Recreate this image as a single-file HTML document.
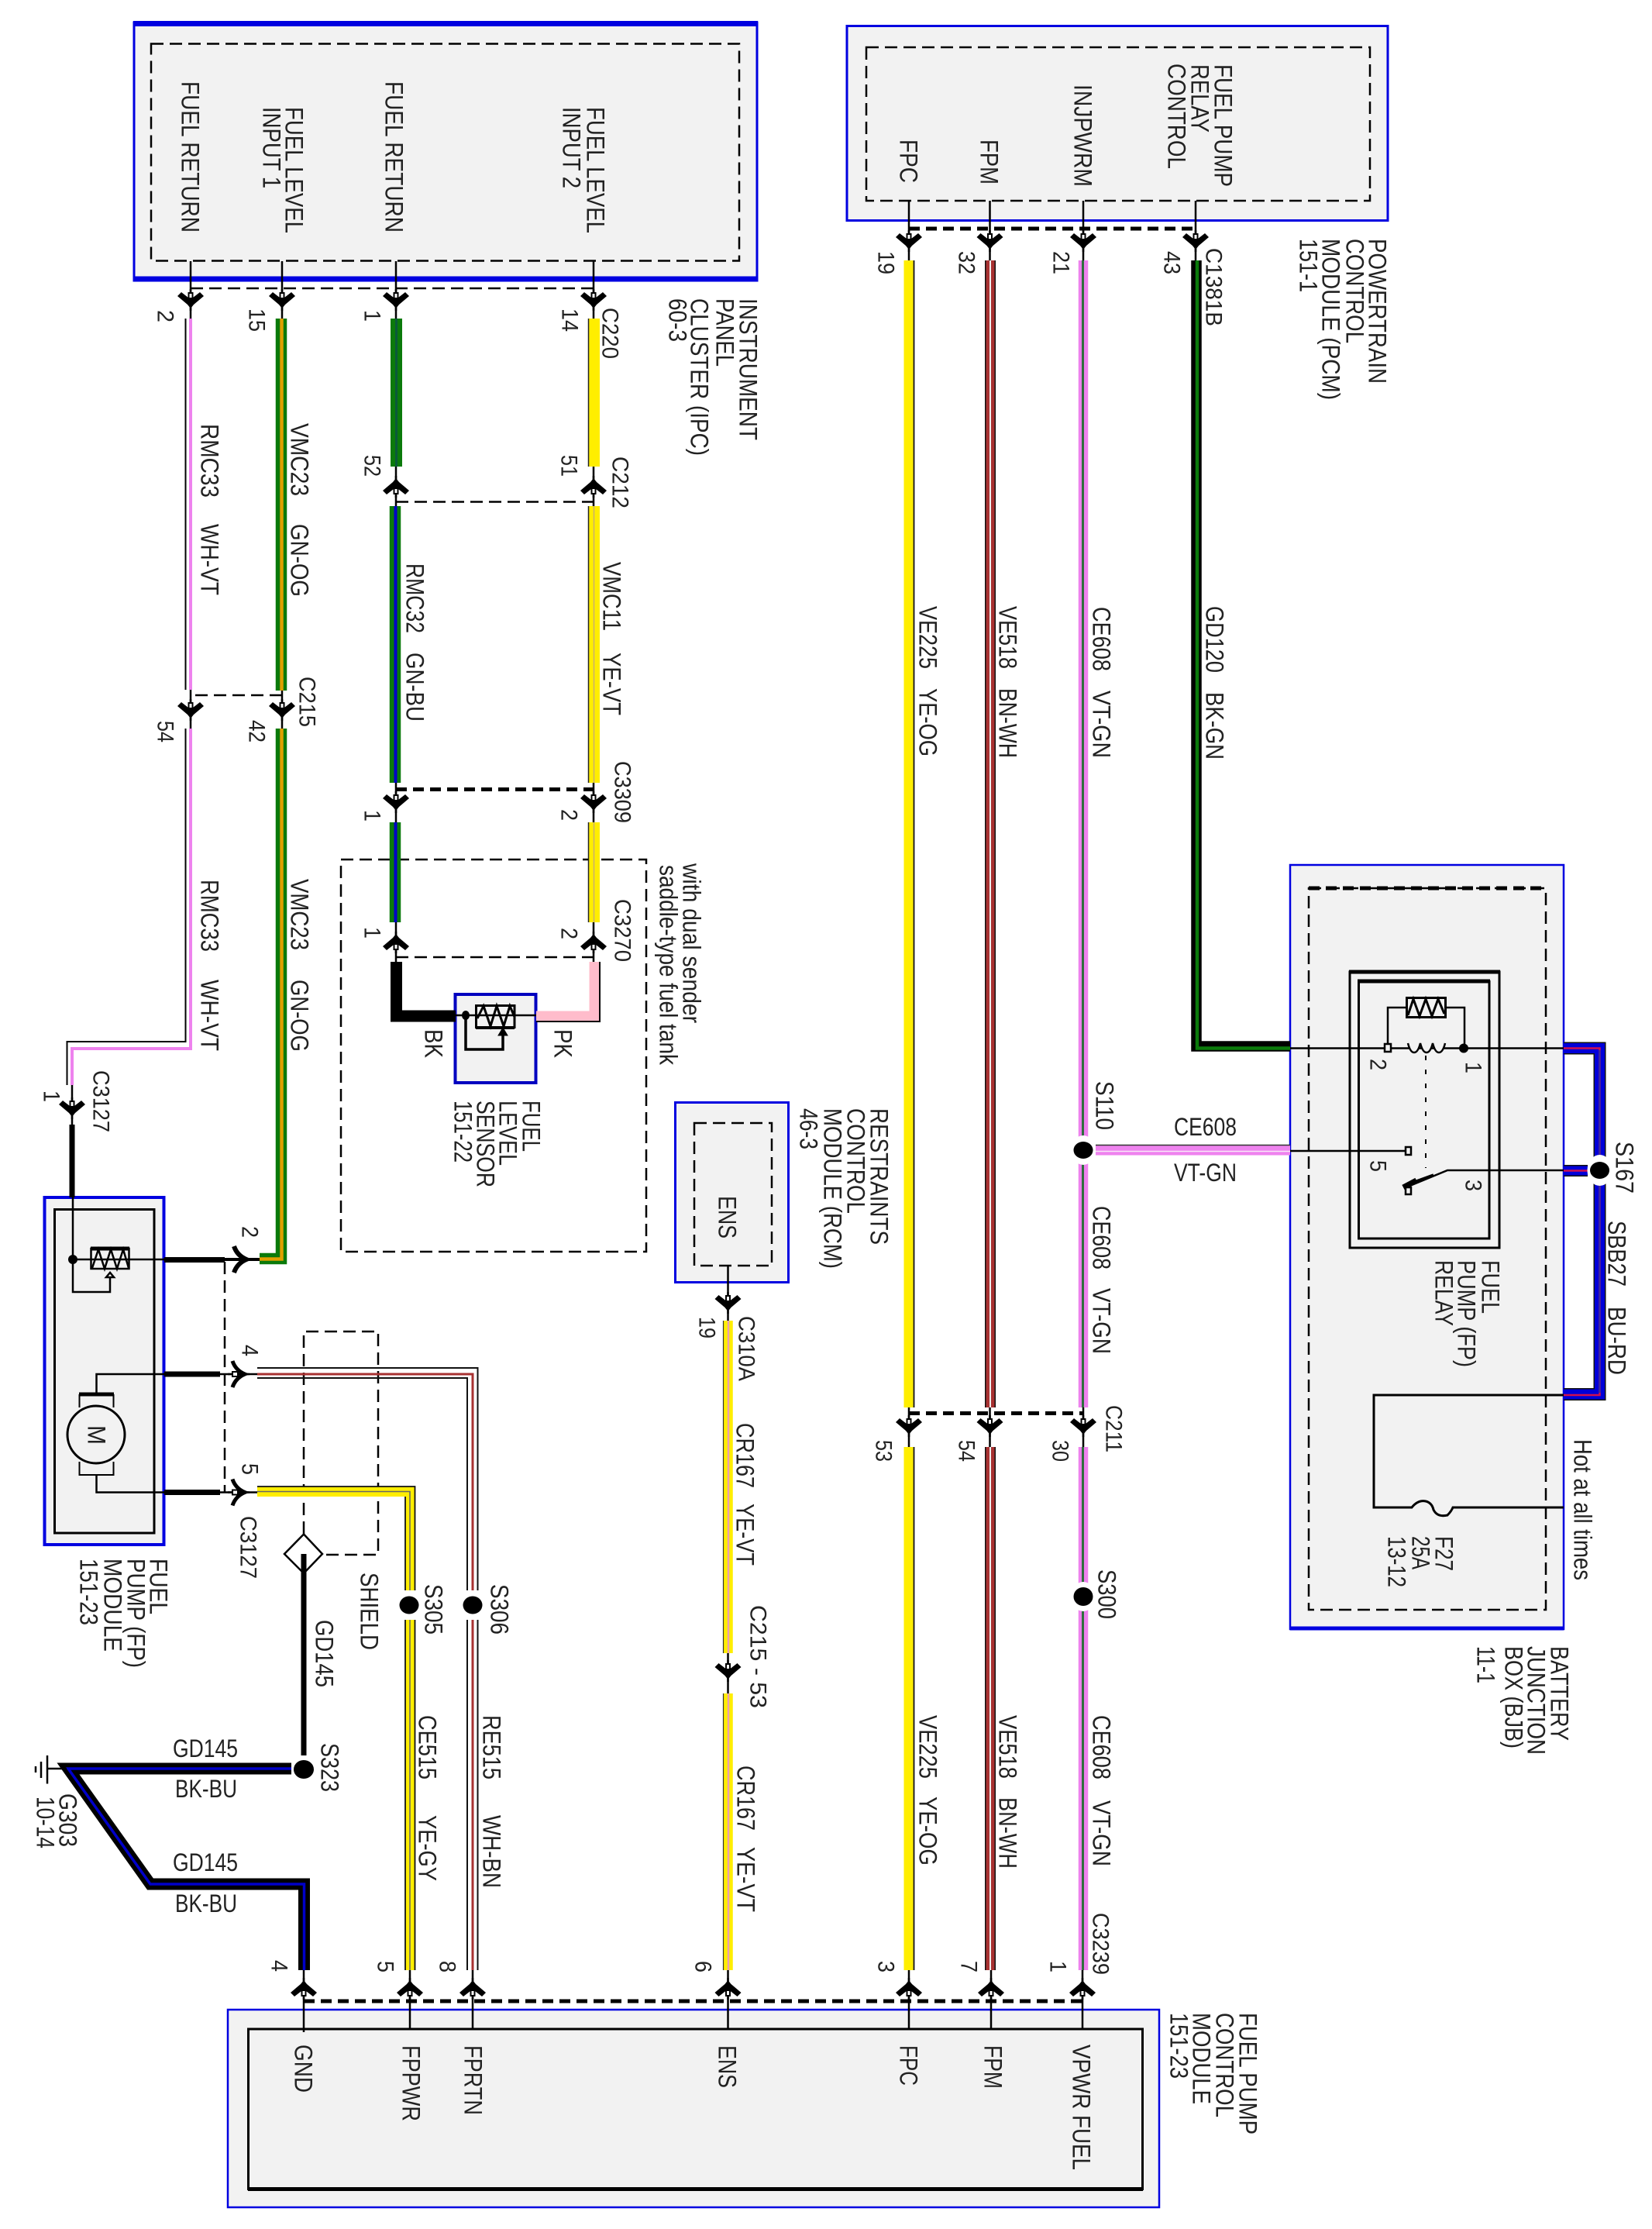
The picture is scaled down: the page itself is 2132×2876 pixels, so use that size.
<!DOCTYPE html>
<html><head><meta charset="utf-8"><title>Fuel pump wiring diagram</title>
<style>
html,body{margin:0;padding:0;background:#fff}
svg{display:block}
text{font-family:"Liberation Sans",sans-serif;font-size:32px;fill:#222}
.n{font-size:30px}
</style></head><body>
<svg xmlns="http://www.w3.org/2000/svg" width="2132" height="2876" viewBox="0 0 2132 2876" fill="none" stroke-linecap="butt" stroke-linejoin="miter">
<defs>
<g id="a"><polygon fill="#000" stroke="none" points="-17,-5 -12,-10 -3,-3 3,-3 12,-10 17,-5 4,6 0,11 -4,6"/><path d="M0,-14V14" stroke="#000" stroke-width="2.5"/><rect x="-2.5" y="-9" width="5" height="7" fill="#fff" stroke="#000" stroke-width="2"/></g>
<g id="r"><path d="M-8,-17Q-4,-5 8,0Q-4,5 -8,17" stroke="#000" stroke-width="5"/><path d="M-14,0H14" stroke="#000" stroke-width="2.5"/><rect x="-8" y="-3" width="7" height="6" fill="#fff" stroke="#000" stroke-width="2"/></g>
</defs>

<!-- boxes -->
<g fill="#f2f2f2">
<rect x="173" y="29" width="804" height="333" stroke="#0000e0" stroke-width="3"/>
<rect x="1093" y="33.5" width="698" height="251" stroke="#0000e0" stroke-width="3"/>
<rect x="1665" y="1116" width="353" height="986" stroke="#0000e0" stroke-width="2.5"/>
<rect x="871.5" y="1422.5" width="146" height="232" stroke="#0000e0" stroke-width="3"/>
<rect x="57.5" y="1545" width="154" height="448" stroke="#0000e0" stroke-width="4"/>
<rect x="294" y="2593" width="1202" height="255" stroke="#0000e0" stroke-width="2.5"/>
<rect x="587.5" y="1283" width="104" height="114" stroke="#0000c0" stroke-width="4"/>
</g>
<path d="M172,30.5H978M172,360H978" stroke="#0000e0" stroke-width="7"/>
<path d="M1665,2101H2018" stroke="#0000e0" stroke-width="5"/>
<rect x="70.5" y="1560.5" width="128.5" height="417.5" stroke="#000" stroke-width="3"/>
<rect x="320.5" y="2618" width="1154" height="206.5" stroke="#000" stroke-width="3"/>
<path d="M320,2824.5H1475" stroke="#000" stroke-width="5"/>

<!-- dashed groups -->
<g stroke="#000" stroke-width="2.5" stroke-dasharray="16 8">
<rect x="195" y="56.5" width="759" height="280"/>
<rect x="1118" y="61" width="650" height="198"/>
<rect x="1689" y="1146" width="306" height="931"/>
<rect x="896" y="1449" width="100" height="184"/>
<rect x="440" y="1109" width="394" height="506"/>
<path d="M246,372H766M511,647.5H766M364,897H246M511,1235H766M290,1628V1925"/>
<path d="M392,1979V1718H488V2006H416"/>
</g>
<g stroke="#000" stroke-width="5" stroke-dasharray="14 8">
<path d="M1173,295H1543M511,1018.5H766M1173,1823.5H1398M392,2582H1397M1689,1146H1995"/>
</g>

<!-- thin connecting lines -->
<g stroke="#000" stroke-width="2.5">
<path d="M246,337V411M364,337V411M511,337V411M766,337V411"/>
<path d="M511,602V653M766,602V653M246,890V940M364,891V940M511,1010V1061M766,1010V1061M511,1190V1241M766,1190V1241"/>
<path d="M1173,259V336M1277.5,259V336M1398,259V336M1543,259V336"/>
<path d="M1173,1816V1867M1277.5,1816V1867M1398,1816V1867"/>
<path d="M392,2542V2622M529,2542V2618M610,2542V2618M939.5,2542V2618M1173,2542V2618M1279,2542V2618M1397,2542V2618"/>
<path d="M939.5,1633V1704M939.5,2133V2185"/>
<path d="M93,1400V1455"/>
</g>

<!-- WH-VT -->
<path d="M239.5,411V890M239.5,940V1344H86.5V1400" stroke="#000" stroke-width="2"/>
<path d="M246,411V890M246,940V1353H93V1400" stroke="#ee82ee" stroke-width="4"/>
<path d="M93,1451V1545" stroke="#000" stroke-width="7"/>
<!-- GN-OG -->
<path d="M363,411V891M363,940V1624H335" stroke="#0b7a0b" stroke-width="14.5"/>
<path d="M363.5,411V891M363.5,940V1624.5H335" stroke="#e0a000" stroke-width="4.5"/>
<!-- GN -->
<path d="M511.5,411V602" stroke="#0b7a0b" stroke-width="15"/>
<path d="M511.5,411V602" stroke="#0a5a3a" stroke-width="3"/>
<path d="M510,653V1010M510,1061V1190" stroke="#0b7a0b" stroke-width="14.5"/>
<path d="M510.5,653V1010M510.5,1061V1190" stroke="#0000c8" stroke-width="4"/>
<!-- YE -->
<path d="M767,411V602M767,653V1010M767,1061V1190" stroke="#ffee00" stroke-width="14"/>
<path d="M759.5,411V602M759.5,653V1010M759.5,1061V1190" stroke="#222" stroke-width="1.5"/>
<path d="M766.5,653V1010M766.5,1061V1190" stroke="#c8b070" stroke-width="1.5"/>
<!-- BK sensor -->
<path d="M511.5,1241V1311H588" stroke="#000" stroke-width="15"/>
<path d="M767,1241V1311H692" stroke="#ffbccb" stroke-width="13"/>
<path d="M774,1241V1318H692" stroke="#000" stroke-width="2"/>
<!-- sensor internals -->
<g stroke="#000">
<rect x="614.5" y="1297.5" width="49.5" height="28" stroke-width="3"/>
<path d="M614,1326H664" stroke-width="4"/>
<path d="M585,1310H692" stroke-width="2.5"/>
<path d="M616,1314L624,1298L633,1324L641,1298L650,1324L658,1298L664,1312" stroke-width="3"/>
<path d="M601,1310V1354H649V1332" stroke-width="3.5"/>
<path d="M649,1326L643,1336H655Z" fill="#000" stroke-width="1"/>
<ellipse cx="601" cy="1310" rx="5" ry="6" fill="#000" stroke="none"/>
</g>

<!-- PCM wires -->
<path d="M1172.5,336V1816M1172.5,1867V2542" stroke="#ffee00" stroke-width="12"/>
<path d="M1179.5,336V1816M1179.5,1867V2542" stroke="#111" stroke-width="1.8"/>
<path d="M1278,336V1816M1278,1867V2542" stroke="#111" stroke-width="14"/>
<path d="M1278,336V1816M1278,1867V2542" stroke="#a83232" stroke-width="11"/>
<path d="M1278,336V1816M1278,1867V2542" stroke="#eee" stroke-width="2"/>
<path d="M1398,336V1816M1398,1867V2542" stroke="#ee82ee" stroke-width="12.5"/>
<path d="M1397.5,336V1816M1397.5,1867V2542" stroke="#2f6f3f" stroke-width="3"/>
<path d="M1544,336V1350H1665" stroke="#000" stroke-width="13.5"/>
<path d="M1545,336V1352.5H1665" stroke="#0b7a0b" stroke-width="4.5"/>
<!-- CE608 horizontal -->
<path d="M1414,1484H1665" stroke="#ee82ee" stroke-width="13"/>
<path d="M1414,1477.5H1665" stroke="#333" stroke-width="1.5"/>
<path d="M1414,1485.5H1665" stroke="#f8e8f8" stroke-width="1.5"/>
<!-- splice dots with halo -->
<g>
<ellipse cx="1398" cy="1484" rx="16" ry="19" fill="#fff"/>
<ellipse cx="1398" cy="2060" rx="16" ry="19" fill="#fff"/>
<ellipse cx="528" cy="2071" rx="17" ry="20" fill="#fff"/>
<ellipse cx="610" cy="2071" rx="17" ry="20" fill="#fff"/>
</g>

<!-- BU-RD -->
<path d="M2018,1352.5H2064.5V1799H2018" stroke="#111" stroke-width="16"/>
<path d="M2018,1352.5H2064.5V1799H2018" stroke="#0000d8" stroke-width="13"/>
<path d="M2018,1352.5H2064.5V1800H2018" stroke="#d01050" stroke-width="2.5"/>
<path d="M2064.5,1355V1797" stroke="#3030a0" stroke-width="2"/>
<path d="M2018,1510.5H2049" stroke="#111" stroke-width="15"/>
<path d="M2018,1510.5H2049" stroke="#0000d8" stroke-width="12"/>
<path d="M2018,1510.5H2049" stroke="#d01050" stroke-width="2.5"/>
<ellipse cx="2064.5" cy="1510" rx="16" ry="20" fill="#fff"/>

<!-- relay -->
<g stroke="#000">
<rect x="1742" y="1254" width="193" height="356" stroke-width="3"/>
<path d="M1741,1254H1936" stroke-width="5"/>
<rect x="1753.5" y="1266.5" width="168.5" height="331.5" stroke-width="3"/>
<path d="M1752,1266H1923" stroke-width="5"/>
<rect x="1815.5" y="1287.5" width="50" height="25" stroke-width="3"/>
<path d="M1817,1310L1824,1289L1832,1311L1840,1289L1848,1311L1856,1289L1864,1308" stroke-width="3"/>
<path d="M1791,1352V1300H1815M1866,1300H1890V1352" stroke-width="2.5"/>
<path d="M1665,1352.5H2018" stroke-width="2.5"/>
<path d="M1817,1346Q1820,1358 1825,1358T1833,1346Q1836,1358 1841,1358T1849,1346Q1852,1358 1857,1358T1865,1346" stroke-width="2.5" fill="#f2f2f2"/>
<rect x="1787" y="1347" width="8" height="10" fill="#f2f2f2" stroke-width="2.5"/>
<ellipse cx="1889" cy="1352.5" rx="6" ry="6" fill="#000" stroke="none"/>
<path d="M1840,1362V1507" stroke-width="2" stroke-dasharray="6 12"/>
<path d="M1665,1485H1815" stroke-width="2.5"/>
<rect x="1814" y="1480" width="7" height="10" fill="#f2f2f2" stroke-width="2.5"/>
<path d="M1817,1531L1868,1510H2018" stroke-width="2.5"/>
<path d="M1811,1532L1828,1523" stroke-width="7"/>
<path d="M1828,1524L1850,1516" stroke-width="3.5"/>
<rect x="1814" y="1532" width="7" height="9" fill="#f2f2f2" stroke-width="2.5"/>
<path d="M2018,1800H1773V1945H1822Q1830,1935 1840,1937Q1848,1939 1850,1948Q1855,1958 1868,1955Q1873,1950 1875,1945H2018" stroke-width="3"/>
</g>

<!-- FP module internals -->
<g stroke="#000">
<rect x="117.5" y="1611" width="49" height="26" stroke-width="2.5"/>
<path d="M117,1611H167" stroke-width="5"/>
<path d="M119,1636L127,1612L135,1637L143,1612L151,1637L159,1612L166,1636" stroke-width="2.5"/>
<path d="M94,1545V1667H142V1645" stroke-width="2.5"/>
<path d="M94,1625H212" stroke-width="2.5"/>
<path d="M142,1642L137,1648H147Z" fill="#fff" stroke-width="2.5"/>
<circle cx="94" cy="1625" r="6" fill="#000" stroke="none"/>
<path d="M212,1625.5H290" stroke-width="7"/>
<path d="M290,1625H335" stroke-width="4"/>
<path d="M212,1773H284M212,1925.5H284" stroke-width="7"/>
<path d="M124.5,1797V1773H212M284,1773H332M124.5,1903V1925.5H212M284,1925.5H332" stroke-width="2.5"/>
<path d="M102,1799H147" stroke-width="5"/>
<path d="M102.5,1799V1816M146.5,1799V1816M102.5,1886V1903H146.5V1886" stroke-width="2"/>
<circle cx="124" cy="1851" r="37" stroke-width="3" fill="#f2f2f2"/>
</g>
<path d="M302,1608Q306,1620 318,1625Q306,1630 302,1642" stroke="#000" stroke-width="6"/>

<!-- WH-BN -->
<path d="M332,1765H616.5V2060M616.5,2082V2542" stroke="#111" stroke-width="2"/>
<path d="M332,1773H610V2542" stroke="#a83232" stroke-width="3"/>
<path d="M332,1778H603V2060M603,2082V2542" stroke="#111" stroke-width="2"/>
<!-- YE-GY -->
<path d="M332,1924.5H529V2542" stroke="#ffee00" stroke-width="13"/>
<path d="M332,1924.5H529V2542" stroke="#666" stroke-width="1.6"/>
<path d="M332,1918H535.5V2542M523,1931V2542" stroke="#111" stroke-width="1.8"/>

<!-- re-halo for splices on left wires -->
<rect x="512" y="2052" width="34" height="38" fill="#fff"/>
<rect x="596" y="2052" width="28" height="38" fill="#fff"/>
<rect x="1389" y="2048" width="18" height="24" fill="#fff"/>
<rect x="1389" y="1470" width="18" height="28" fill="#fff"/>
<!-- dots -->
<g fill="#000">
<ellipse cx="1398" cy="1484" rx="12.5" ry="11"/>
<ellipse cx="1398" cy="2060" rx="12.5" ry="12"/>
<ellipse cx="2064.5" cy="1510" rx="12.5" ry="11"/>
<ellipse cx="528" cy="2071" rx="12.5" ry="11.5"/>
<ellipse cx="610" cy="2071" rx="12.5" ry="11.5"/>
<ellipse cx="392" cy="2283" rx="13" ry="12"/>
</g>

<!-- RCM wire -->
<path d="M939.5,1704V2133M939.5,2185V2542" stroke="#ffee00" stroke-width="12.5"/>
<path d="M940,1704V2133M940,2185V2542" stroke="#e8a0b0" stroke-width="2.5"/>
<path d="M933.5,1704V2133M933.5,2185V2542" stroke="#333" stroke-width="1.2"/>

<!-- GD145 -->
<path d="M392,2005V2265" stroke="#000" stroke-width="7"/>
<path d="M376,2282H88L194,2431H392.5V2542" stroke="#000" stroke-width="15"/>
<path d="M376,2282H88L194,2431H392.5V2542" stroke="#0000c8" stroke-width="3.5"/>
<path d="M392,1979.5L416,2005L392,2030L367,2005Z" fill="#fff" stroke="#000" stroke-width="2.5"/>
<path d="M392,2005V2032" stroke="#000" stroke-width="7"/>
<path d="M86,2282H61M61,2265V2301.5M53,2273V2294M46,2279V2287" stroke="#000" stroke-width="2.5"/>

<!-- connectors -->
<g>
<use href="#a" x="246" y="387"/><use href="#a" x="364" y="387"/><use href="#a" x="511" y="387"/><use href="#a" x="766" y="387"/>
<use href="#a" x="246" y="916"/><use href="#a" x="364" y="916"/>
<use href="#a" x="511" y="1035"/><use href="#a" x="766" y="1035"/>
<use href="#a" x="93" y="1430"/>
<use href="#a" x="1173" y="311"/><use href="#a" x="1277.5" y="311"/><use href="#a" x="1398" y="311"/><use href="#a" x="1543" y="311"/>
<use href="#a" x="1173" y="1840"/><use href="#a" x="1277.5" y="1840"/><use href="#a" x="1398" y="1840"/>
<use href="#a" x="939.5" y="1681"/><use href="#a" x="939.5" y="2156"/>
<use href="#a" transform="translate(511,628) rotate(180)"/><use href="#a" transform="translate(766,628) rotate(180)"/>
<use href="#a" transform="translate(511,1216) rotate(180)"/><use href="#a" transform="translate(766,1216) rotate(180)"/>
<use href="#a" transform="translate(392,2566) rotate(180)"/><use href="#a" transform="translate(529,2566) rotate(180)"/><use href="#a" transform="translate(610,2566) rotate(180)"/><use href="#a" transform="translate(939.5,2566) rotate(180)"/><use href="#a" transform="translate(1173,2566) rotate(180)"/><use href="#a" transform="translate(1279,2566) rotate(180)"/><use href="#a" transform="translate(1397,2566) rotate(180)"/>
<use href="#r" x="308" y="1773"/><use href="#r" x="308" y="1925.5"/>
</g>

<!-- rotated text -->
<g transform="translate(1.5,0)">
<text transform="translate(233,105)rotate(90)" textLength="195" lengthAdjust="spacingAndGlyphs">FUEL RETURN</text>
<text transform="translate(367,138)rotate(90)" textLength="163" lengthAdjust="spacingAndGlyphs">FUEL LEVEL</text>
<text transform="translate(338,138)rotate(90)" textLength="105" lengthAdjust="spacingAndGlyphs">INPUT 1</text>
<text transform="translate(496,105)rotate(90)" textLength="195" lengthAdjust="spacingAndGlyphs">FUEL RETURN</text>
<text transform="translate(756,138)rotate(90)" textLength="163" lengthAdjust="spacingAndGlyphs">FUEL LEVEL</text>
<text transform="translate(725,138)rotate(90)" textLength="105" lengthAdjust="spacingAndGlyphs">INPUT 2</text>
<text transform="translate(953,385)rotate(90)" textLength="183" lengthAdjust="spacingAndGlyphs">INSTRUMENT</text>
<text transform="translate(923,385)rotate(90)" textLength="88" lengthAdjust="spacingAndGlyphs">PANEL</text>
<text transform="translate(890,385)rotate(90)" textLength="203" lengthAdjust="spacingAndGlyphs">CLUSTER (IPC)</text>
<text transform="translate(862,385)rotate(90)" textLength="56" lengthAdjust="spacingAndGlyphs">60-3</text>
<text class="n" transform="translate(202,400)rotate(90)" textLength="16" lengthAdjust="spacingAndGlyphs">2</text>
<text class="n" transform="translate(320,398)rotate(90)" textLength="30" lengthAdjust="spacingAndGlyphs">15</text>
<text class="n" transform="translate(469,400)rotate(90)" textLength="15" lengthAdjust="spacingAndGlyphs">1</text>
<text class="n" transform="translate(724,398)rotate(90)" textLength="30" lengthAdjust="spacingAndGlyphs">14</text>
<text class="n" transform="translate(776,397)rotate(90)" textLength="66" lengthAdjust="spacingAndGlyphs">C220</text>
<text class="n" transform="translate(469,587)rotate(90)" textLength="28" lengthAdjust="spacingAndGlyphs">52</text>
<text class="n" transform="translate(723,587)rotate(90)" textLength="28" lengthAdjust="spacingAndGlyphs">51</text>
<text class="n" transform="translate(789,589)rotate(90)" textLength="67" lengthAdjust="spacingAndGlyphs">C212</text>
<text transform="translate(258,547)rotate(90)" textLength="95" lengthAdjust="spacingAndGlyphs">RMC33</text>
<text transform="translate(258,676)rotate(90)" textLength="92" lengthAdjust="spacingAndGlyphs">WH-VT</text>
<text transform="translate(374,546)rotate(90)" textLength="94" lengthAdjust="spacingAndGlyphs">VMC23</text>
<text transform="translate(374,676)rotate(90)" textLength="94" lengthAdjust="spacingAndGlyphs">GN-OG</text>
<text transform="translate(523,727)rotate(90)" textLength="90" lengthAdjust="spacingAndGlyphs">RMC32</text>
<text transform="translate(523,842)rotate(90)" textLength="89" lengthAdjust="spacingAndGlyphs">GN-BU</text>
<text transform="translate(777,725)rotate(90)" textLength="89" lengthAdjust="spacingAndGlyphs">VMC11</text>
<text transform="translate(777,842)rotate(90)" textLength="81" lengthAdjust="spacingAndGlyphs">YE-VT</text>
<text class="n" transform="translate(202,930)rotate(90)" textLength="28" lengthAdjust="spacingAndGlyphs">54</text>
<text class="n" transform="translate(320,929)rotate(90)" textLength="29" lengthAdjust="spacingAndGlyphs">42</text>
<text class="n" transform="translate(385,873)rotate(90)" textLength="65" lengthAdjust="spacingAndGlyphs">C215</text>
<text class="n" transform="translate(469,1045)rotate(90)" textLength="15" lengthAdjust="spacingAndGlyphs">1</text>
<text class="n" transform="translate(723,1044)rotate(90)" textLength="15" lengthAdjust="spacingAndGlyphs">2</text>
<text class="n" transform="translate(792,982)rotate(90)" textLength="80" lengthAdjust="spacingAndGlyphs">C3309</text>
<text class="n" transform="translate(469,1196)rotate(90)" textLength="15" lengthAdjust="spacingAndGlyphs">1</text>
<text class="n" transform="translate(723,1197)rotate(90)" textLength="15" lengthAdjust="spacingAndGlyphs">2</text>
<text class="n" transform="translate(792,1160)rotate(90)" textLength="81" lengthAdjust="spacingAndGlyphs">C3270</text>
<text transform="translate(880,1114)rotate(90)" textLength="206" lengthAdjust="spacingAndGlyphs">with dual sender</text>
<text transform="translate(850,1116)rotate(90)" textLength="258" lengthAdjust="spacingAndGlyphs">saddle-type fuel tank</text>
<text transform="translate(258,1135)rotate(90)" textLength="93" lengthAdjust="spacingAndGlyphs">RMC33</text>
<text transform="translate(258,1264)rotate(90)" textLength="92" lengthAdjust="spacingAndGlyphs">WH-VT</text>
<text transform="translate(374,1134)rotate(90)" textLength="92" lengthAdjust="spacingAndGlyphs">VMC23</text>
<text transform="translate(374,1264)rotate(90)" textLength="93" lengthAdjust="spacingAndGlyphs">GN-OG</text>
<text transform="translate(547,1328)rotate(90)" textLength="37" lengthAdjust="spacingAndGlyphs">BK</text>
<text transform="translate(714,1328)rotate(90)" textLength="37" lengthAdjust="spacingAndGlyphs">PK</text>
<text transform="translate(673,1420)rotate(90)" textLength="66" lengthAdjust="spacingAndGlyphs">FUEL</text>
<text transform="translate(643,1420)rotate(90)" textLength="84" lengthAdjust="spacingAndGlyphs">LEVEL</text>
<text transform="translate(614,1420)rotate(90)" textLength="112" lengthAdjust="spacingAndGlyphs">SENSOR</text>
<text transform="translate(585,1420)rotate(90)" textLength="80" lengthAdjust="spacingAndGlyphs">151-22</text>
<text class="n" transform="translate(55,1407)rotate(90)" textLength="15" lengthAdjust="spacingAndGlyphs">1</text>
<text class="n" transform="translate(119,1381)rotate(90)" textLength="80" lengthAdjust="spacingAndGlyphs">C3127</text>
<text class="n" transform="translate(311,1582)rotate(90)" textLength="15" lengthAdjust="spacingAndGlyphs">2</text>
<text class="n" transform="translate(311,1735)rotate(90)" textLength="15" lengthAdjust="spacingAndGlyphs">4</text>
<text class="n" transform="translate(311,1888)rotate(90)" textLength="15" lengthAdjust="spacingAndGlyphs">5</text>
<text class="n" transform="translate(309,1956)rotate(90)" textLength="81" lengthAdjust="spacingAndGlyphs">C3127</text>
<text transform="translate(112,1839)rotate(90)" textLength="25" lengthAdjust="spacingAndGlyphs">M</text>
<text transform="translate(192,2011)rotate(90)" textLength="72" lengthAdjust="spacingAndGlyphs">FUEL</text>
<text transform="translate(163,2011)rotate(90)" textLength="141" lengthAdjust="spacingAndGlyphs">PUMP (FP)</text>
<text transform="translate(133,2011)rotate(90)" textLength="120" lengthAdjust="spacingAndGlyphs">MODULE</text>
<text transform="translate(102,2011)rotate(90)" textLength="86" lengthAdjust="spacingAndGlyphs">151-23</text>
<text transform="translate(464,2029)rotate(90)" textLength="100" lengthAdjust="spacingAndGlyphs">SHIELD</text>
<text transform="translate(547,2044)rotate(90)" textLength="65" lengthAdjust="spacingAndGlyphs">S305</text>
<text transform="translate(632,2044)rotate(90)" textLength="65" lengthAdjust="spacingAndGlyphs">S306</text>
<text transform="translate(406,2090)rotate(90)" textLength="87" lengthAdjust="spacingAndGlyphs">GD145</text>
<text transform="translate(413,2249)rotate(90)" textLength="63" lengthAdjust="spacingAndGlyphs">S323</text>
<text transform="translate(75,2314)rotate(90)" textLength="69" lengthAdjust="spacingAndGlyphs">G303</text>
<text transform="translate(46,2318)rotate(90)" textLength="67" lengthAdjust="spacingAndGlyphs">10-14</text>
<text transform="translate(539,2213)rotate(90)" textLength="83" lengthAdjust="spacingAndGlyphs">CE515</text>
<text transform="translate(539,2342)rotate(90)" textLength="85" lengthAdjust="spacingAndGlyphs">YE-GY</text>
<text transform="translate(622,2213)rotate(90)" textLength="83" lengthAdjust="spacingAndGlyphs">RE515</text>
<text transform="translate(622,2342)rotate(90)" textLength="94" lengthAdjust="spacingAndGlyphs">WH-BN</text>
<text class="n" transform="translate(349,2529)rotate(90)" textLength="15" lengthAdjust="spacingAndGlyphs">4</text>
<text class="n" transform="translate(486,2530)rotate(90)" textLength="15" lengthAdjust="spacingAndGlyphs">5</text>
<text class="n" transform="translate(566,2530)rotate(90)" textLength="15" lengthAdjust="spacingAndGlyphs">8</text>
<text class="n" transform="translate(896,2530)rotate(90)" textLength="15" lengthAdjust="spacingAndGlyphs">6</text>
<text class="n" transform="translate(1132,2530)rotate(90)" textLength="15" lengthAdjust="spacingAndGlyphs">3</text>
<text class="n" transform="translate(1239,2530)rotate(90)" textLength="15" lengthAdjust="spacingAndGlyphs">7</text>
<text class="n" transform="translate(1354,2530)rotate(90)" textLength="15" lengthAdjust="spacingAndGlyphs">1</text>
<text transform="translate(379,2638)rotate(90)" textLength="62" lengthAdjust="spacingAndGlyphs">GND</text>
<text transform="translate(518,2639)rotate(90)" textLength="98" lengthAdjust="spacingAndGlyphs">FPPWR</text>
<text transform="translate(598,2639)rotate(90)" textLength="90" lengthAdjust="spacingAndGlyphs">FPRTN</text>
<text transform="translate(926,2639)rotate(90)" textLength="55" lengthAdjust="spacingAndGlyphs">ENS</text>
<text transform="translate(1160,2639)rotate(90)" textLength="52" lengthAdjust="spacingAndGlyphs">FPC</text>
<text transform="translate(1269,2639)rotate(90)" textLength="56" lengthAdjust="spacingAndGlyphs">FPM</text>
<text transform="translate(1383,2638)rotate(90)" textLength="162" lengthAdjust="spacingAndGlyphs">VPWR FUEL</text>
<text transform="translate(1598,2597)rotate(90)" textLength="157" lengthAdjust="spacingAndGlyphs">FUEL PUMP</text>
<text transform="translate(1568,2597)rotate(90)" textLength="135" lengthAdjust="spacingAndGlyphs">CONTROL</text>
<text transform="translate(1538,2597)rotate(90)" textLength="118" lengthAdjust="spacingAndGlyphs">MODULE</text>
<text transform="translate(1509,2597)rotate(90)" textLength="85" lengthAdjust="spacingAndGlyphs">151-23</text>
<text transform="translate(1160,180)rotate(90)" textLength="56" lengthAdjust="spacingAndGlyphs">FPC</text>
<text transform="translate(1264,180)rotate(90)" textLength="58" lengthAdjust="spacingAndGlyphs">FPM</text>
<text transform="translate(1385,109)rotate(90)" textLength="132" lengthAdjust="spacingAndGlyphs">INJPWRM</text>
<text transform="translate(1566,83)rotate(90)" textLength="158" lengthAdjust="spacingAndGlyphs">FUEL PUMP</text>
<text transform="translate(1536,83)rotate(90)" textLength="88" lengthAdjust="spacingAndGlyphs">RELAY</text>
<text transform="translate(1506,82)rotate(90)" textLength="136" lengthAdjust="spacingAndGlyphs">CONTROL</text>
<text transform="translate(1765,308)rotate(90)" textLength="187" lengthAdjust="spacingAndGlyphs">POWERTRAIN</text>
<text transform="translate(1736,308)rotate(90)" textLength="135" lengthAdjust="spacingAndGlyphs">CONTROL</text>
<text transform="translate(1705,308)rotate(90)" textLength="208" lengthAdjust="spacingAndGlyphs">MODULE (PCM)</text>
<text transform="translate(1676,308)rotate(90)" textLength="69" lengthAdjust="spacingAndGlyphs">151-1</text>
<text class="n" transform="translate(1132,324)rotate(90)" textLength="30" lengthAdjust="spacingAndGlyphs">19</text>
<text class="n" transform="translate(1236,324)rotate(90)" textLength="30" lengthAdjust="spacingAndGlyphs">32</text>
<text class="n" transform="translate(1358,324)rotate(90)" textLength="30" lengthAdjust="spacingAndGlyphs">21</text>
<text class="n" transform="translate(1501,324)rotate(90)" textLength="30" lengthAdjust="spacingAndGlyphs">43</text>
<text class="n" transform="translate(1555,320)rotate(90)" textLength="101" lengthAdjust="spacingAndGlyphs">C1381B</text>
<text transform="translate(1185,782)rotate(90)" textLength="81" lengthAdjust="spacingAndGlyphs">VE225</text>
<text transform="translate(1185,888)rotate(90)" textLength="88" lengthAdjust="spacingAndGlyphs">YE-OG</text>
<text transform="translate(1288,782)rotate(90)" textLength="81" lengthAdjust="spacingAndGlyphs">VE518</text>
<text transform="translate(1288,888)rotate(90)" textLength="90" lengthAdjust="spacingAndGlyphs">BN-WH</text>
<text transform="translate(1409,783)rotate(90)" textLength="83" lengthAdjust="spacingAndGlyphs">CE608</text>
<text transform="translate(1409,891)rotate(90)" textLength="87" lengthAdjust="spacingAndGlyphs">VT-GN</text>
<text transform="translate(1555,782)rotate(90)" textLength="86" lengthAdjust="spacingAndGlyphs">GD120</text>
<text transform="translate(1555,893)rotate(90)" textLength="87" lengthAdjust="spacingAndGlyphs">BK-GN</text>
<text transform="translate(1413,1395)rotate(90)" textLength="63" lengthAdjust="spacingAndGlyphs">S110</text>
<text transform="translate(1409,1556)rotate(90)" textLength="82" lengthAdjust="spacingAndGlyphs">CE608</text>
<text transform="translate(1409,1662)rotate(90)" textLength="85" lengthAdjust="spacingAndGlyphs">VT-GN</text>
<text class="n" transform="translate(1426,1813)rotate(90)" textLength="61" lengthAdjust="spacingAndGlyphs">C211</text>
<text class="n" transform="translate(1129,1858)rotate(90)" textLength="28" lengthAdjust="spacingAndGlyphs">53</text>
<text class="n" transform="translate(1236,1858)rotate(90)" textLength="28" lengthAdjust="spacingAndGlyphs">54</text>
<text class="n" transform="translate(1357,1858)rotate(90)" textLength="28" lengthAdjust="spacingAndGlyphs">30</text>
<text transform="translate(1416,2025)rotate(90)" textLength="64" lengthAdjust="spacingAndGlyphs">S300</text>
<text transform="translate(1185,2213)rotate(90)" textLength="82" lengthAdjust="spacingAndGlyphs">VE225</text>
<text transform="translate(1185,2318)rotate(90)" textLength="89" lengthAdjust="spacingAndGlyphs">YE-OG</text>
<text transform="translate(1288,2213)rotate(90)" textLength="82" lengthAdjust="spacingAndGlyphs">VE518</text>
<text transform="translate(1288,2319)rotate(90)" textLength="92" lengthAdjust="spacingAndGlyphs">BN-WH</text>
<text transform="translate(1409,2213)rotate(90)" textLength="83" lengthAdjust="spacingAndGlyphs">CE608</text>
<text transform="translate(1409,2323)rotate(90)" textLength="85" lengthAdjust="spacingAndGlyphs">VT-GN</text>
<text class="n" transform="translate(1409,2468)rotate(90)" textLength="80" lengthAdjust="spacingAndGlyphs">C3239</text>
<text transform="translate(926,1543)rotate(90)" textLength="55" lengthAdjust="spacingAndGlyphs">ENS</text>
<text class="n" transform="translate(901,1699)rotate(90)" textLength="28" lengthAdjust="spacingAndGlyphs">19</text>
<text class="n" transform="translate(952,1698)rotate(90)" textLength="84" lengthAdjust="spacingAndGlyphs">C310A</text>
<text transform="translate(949,1836)rotate(90)" textLength="84" lengthAdjust="spacingAndGlyphs">CR167</text>
<text transform="translate(949,1940)rotate(90)" textLength="80" lengthAdjust="spacingAndGlyphs">YE-VT</text>
<text class="n" transform="translate(967,2071)rotate(90)" textLength="133" lengthAdjust="spacingAndGlyphs">C215 - 53</text>
<text transform="translate(950,2278)rotate(90)" textLength="84" lengthAdjust="spacingAndGlyphs">CR167</text>
<text transform="translate(950,2383)rotate(90)" textLength="84" lengthAdjust="spacingAndGlyphs">YE-VT</text>
<text transform="translate(1122,1430)rotate(90)" textLength="176" lengthAdjust="spacingAndGlyphs">RESTRAINTS</text>
<text transform="translate(1092,1430)rotate(90)" textLength="136" lengthAdjust="spacingAndGlyphs">CONTROL</text>
<text transform="translate(1062,1430)rotate(90)" textLength="207" lengthAdjust="spacingAndGlyphs">MODULE (RCM)</text>
<text transform="translate(1031,1430)rotate(90)" textLength="53" lengthAdjust="spacingAndGlyphs">46-3</text>
<text class="n" transform="translate(1767,1366)rotate(90)" textLength="15" lengthAdjust="spacingAndGlyphs">2</text>
<text class="n" transform="translate(1890,1370)rotate(90)" textLength="15" lengthAdjust="spacingAndGlyphs">1</text>
<text class="n" transform="translate(1767,1497)rotate(90)" textLength="15" lengthAdjust="spacingAndGlyphs">5</text>
<text class="n" transform="translate(1890,1522)rotate(90)" textLength="15" lengthAdjust="spacingAndGlyphs">3</text>
<text transform="translate(1911,1626)rotate(90)" textLength="69" lengthAdjust="spacingAndGlyphs">FUEL</text>
<text transform="translate(1880,1626)rotate(90)" textLength="138" lengthAdjust="spacingAndGlyphs">PUMP (FP)</text>
<text transform="translate(1851,1626)rotate(90)" textLength="85" lengthAdjust="spacingAndGlyphs">RELAY</text>
<text transform="translate(2084,1473)rotate(90)" textLength="67" lengthAdjust="spacingAndGlyphs">S167</text>
<text transform="translate(2074,1575)rotate(90)" textLength="85" lengthAdjust="spacingAndGlyphs">SBB27</text>
<text transform="translate(2074,1686)rotate(90)" textLength="88" lengthAdjust="spacingAndGlyphs">BU-RD</text>
<text transform="translate(2030,1857)rotate(90)" textLength="182" lengthAdjust="spacingAndGlyphs">Hot at all times</text>
<text transform="translate(1851,1982)rotate(90)" textLength="45" lengthAdjust="spacingAndGlyphs">F27</text>
<text transform="translate(1821,1982)rotate(90)" textLength="43" lengthAdjust="spacingAndGlyphs">25A</text>
<text transform="translate(1790,1982)rotate(90)" textLength="66" lengthAdjust="spacingAndGlyphs">13-12</text>
<text transform="translate(2000,2124)rotate(90)" textLength="122" lengthAdjust="spacingAndGlyphs">BATTERY</text>
<text transform="translate(1970,2124)rotate(90)" textLength="140" lengthAdjust="spacingAndGlyphs">JUNCTION</text>
<text transform="translate(1941,2124)rotate(90)" textLength="132" lengthAdjust="spacingAndGlyphs">BOX (BJB)</text>
<text transform="translate(1905,2124)rotate(90)" textLength="48" lengthAdjust="spacingAndGlyphs">11-1</text>
</g>

<!-- horizontal text -->
<g>
<text x="1515" y="1465" textLength="81" lengthAdjust="spacingAndGlyphs">CE608</text>
<text x="1515" y="1524" textLength="81" lengthAdjust="spacingAndGlyphs">VT-GN</text>
<text x="223" y="2267" textLength="84" lengthAdjust="spacingAndGlyphs">GD145</text>
<text x="226" y="2319" textLength="80" lengthAdjust="spacingAndGlyphs">BK-BU</text>
<text x="223" y="2414" textLength="84" lengthAdjust="spacingAndGlyphs">GD145</text>
<text x="226" y="2467" textLength="80" lengthAdjust="spacingAndGlyphs">BK-BU</text>
</g>
</svg>
</body></html>
